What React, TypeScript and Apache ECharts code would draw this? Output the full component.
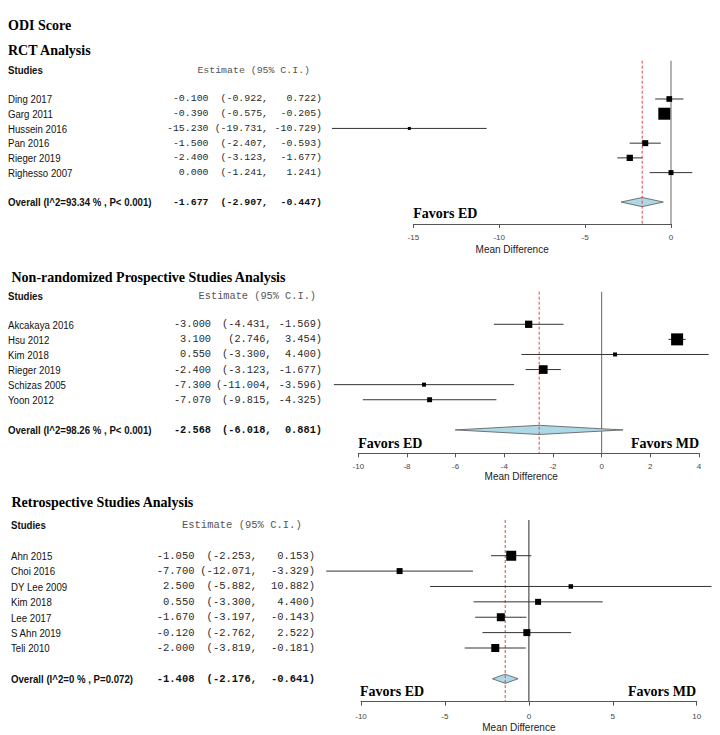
import React, { useEffect, useRef } from "react";
import * as echarts from "echarts";

// ---------- DATA ----------
const rctStudies = ["Ding 2017", "Garg 2011", "Hussein 2016", "Pan 2016", "Rieger 2019", "Righesso 2007"];
const rctEstimate = [-0.1, -0.39, -15.23, -1.5, -2.4, 0.0];
const rctLower = [-0.922, -0.575, -19.731, -2.407, -3.123, -1.241];
const rctUpper = [0.722, -0.205, -10.729, -0.593, -1.677, 1.241];
const rctWeights = [15.0, 31.6, 7.9, 15.8, 16.6, 13.1];
const rctOverall = [-1.677, -2.907, -0.447];
const rctOverallLabel = "Overall (I^2=93.34 % , P< 0.001)";
const rctTicks = [-15, -10, -5, 0];

const nrsStudies = ["Akcakaya 2016", "Hsu 2012", "Kim 2018", "Rieger 2019", "Schizas 2005", "Yoon 2012"];
const nrsEstimate = [-3.0, 3.1, 0.55, -2.4, -7.3, -7.07];
const nrsLower = [-4.431, 2.746, -3.3, -3.123, -11.004, -9.815];
const nrsUpper = [-1.569, 3.454, 4.4, -1.677, -3.596, -4.325];
const nrsWeights = [17.8, 29.3, 9.8, 21.2, 9.8, 12.1];
const nrsOverall = [-2.568, -6.018, 0.881];
const nrsOverallLabel = "Overall (I^2=98.26 % , P< 0.001)";
const nrsTicks = [-10, -8, -6, -4, -2, 0, 2, 4];

const retStudies = ["Ahn 2015", "Choi 2016", "DY Lee 2009", "Kim 2018", "Lee 2017", "S Ahn 2019", "Teli 2010"];
const retEstimate = [-1.05, -7.7, 2.5, 0.55, -1.67, -0.12, -2.0];
const retLower = [-2.253, -12.071, -5.882, -3.3, -3.197, -2.762, -3.819];
const retUpper = [0.153, -3.329, 10.882, 4.4, -0.143, 2.522, -0.181];
const retWeights = [20.2, 12.1, 9.1, 12.1, 16.2, 14.1, 16.2];
const retOverall = [-1.408, -2.176, -0.641];
const retOverallLabel = "Overall (I^2=0 % , P=0.072)";
const retTicks = [-10, -5, 0, 5, 10];

const pageTitle = "ODI Score";
const panelTitles = ["RCT Analysis", "Non-randomized Prospective Studies Analysis", "Retrospective Studies Analysis"];

// ---------- STYLE / LAYOUT ----------
const SANS = "'Liberation Sans', Arial, sans-serif";
const SERIF = "'Liberation Serif', 'Times New Roman', serif";
const MONO = "'Liberation Mono', 'Courier New', monospace";
const LABEL_SIZE = 11.5;
const LABEL_SCALE = 0.84;

type PanelData = {
  studies: string[];
  est: number[];
  lo: number[];
  hi: number[];
  w: number[];
  overall: number[];
  overallLabel: string;
  ticks: number[];
};

type Layout = {
  labelX: number;
  estRight: number;
  loRight: number;
  hiRight: number;
  monoSize: number;
  left: number;
  top: number;
  width: number;
  height: number;
  yMin: number;
  yMax: number;
  maxSquare: number;
  nameGap: number;
  namePad: number;
  labelMargin: number;
};

const panels: PanelData[] = [
  { studies: rctStudies, est: rctEstimate, lo: rctLower, hi: rctUpper, w: rctWeights, overall: rctOverall, overallLabel: rctOverallLabel, ticks: rctTicks },
  { studies: nrsStudies, est: nrsEstimate, lo: nrsLower, hi: nrsUpper, w: nrsWeights, overall: nrsOverall, overallLabel: nrsOverallLabel, ticks: nrsTicks },
  { studies: retStudies, est: retEstimate, lo: retLower, hi: retUpper, w: retWeights, overall: retOverall, overallLabel: retOverallLabel, ticks: retTicks },
];

const layouts: Layout[] = [
  { labelX: 8, estRight: 208.5, loRight: 268, hiRight: 322, monoSize: 9.9, left: 413.3, top: 60.7, width: 257.7, height: 163.3, yMin: -2.6, yMax: 8.49, maxSquare: 12, nameGap: 20, namePad: 60, labelMargin: 9 },
  { labelX: 8, estRight: 211, loRight: 271.5, hiRight: 322, monoSize: 10.3, left: 358.3, top: 291.7, width: 340.7, height: 161.6, yMin: -2.16, yMax: 8.55, maxSquare: 12, nameGap: 18, namePad: 15, labelMargin: 9 },
  { labelX: 11, estRight: 194.5, loRight: 257, hiRight: 315, monoSize: 10.5, left: 361, top: 520, width: 335.7, height: 181.7, yMin: -2.32, yMax: 9.49, maxSquare: 10, nameGap: 21, namePad: 20, labelMargin: 10.5 },
];

const fmt = (v: number) => v.toFixed(3);

function textEl(x: number, y: number, text: string, opts: any) {
  const align = opts.align || "left";
  return {
    type: "text",
    x,
    y,
    scaleX: opts.scaleX || 1,
    silent: true,
    style: {
      text,
      fill: opts.fill || "#111",
      fontSize: opts.fontSize,
      fontFamily: opts.fontFamily,
      fontWeight: opts.fontWeight || "normal",
      align,
      textAlign: align,
      verticalAlign: "middle",
      textVerticalAlign: "middle",
    },
  };
}

function rowTexts(L: Layout, y: number, label: string, e: number, lo: number, hi: number, bold: boolean) {
  const weight = bold ? "bold" : "normal";
  const monoFill = bold ? "#111" : "#2a2a2a";
  return [
    textEl(L.labelX, y, label, { fontSize: LABEL_SIZE, fontFamily: SANS, fontWeight: weight, scaleX: LABEL_SCALE, fill: "#111" }),
    textEl(L.estRight, y, fmt(e), { fontSize: L.monoSize, fontFamily: MONO, fontWeight: weight, align: "right", fill: monoFill }),
    textEl(L.loRight, y, "(" + fmt(lo) + ",", { fontSize: L.monoSize, fontFamily: MONO, fontWeight: weight, align: "right", fill: monoFill }),
    textEl(L.hiRight, y, fmt(hi) + ")", { fontSize: L.monoSize, fontFamily: MONO, fontWeight: weight, align: "right", fill: monoFill }),
  ];
}

function buildOption() {
  const grid: any[] = [];
  const xAxis: any[] = [];
  const yAxis: any[] = [];
  const series: any[] = [];

  panels.forEach((d, i) => {
    const L = layouts[i];
    const maxW = Math.max(...d.w);
    grid.push({ left: L.left, top: L.top, width: L.width, height: L.height, containLabel: false, outerBoundsMode: "none" });
    xAxis.push({
      type: "value",
      gridIndex: i,
      position: "bottom",
      min: d.ticks[0],
      max: d.ticks[d.ticks.length - 1],
      interval: d.ticks[1] - d.ticks[0],
      axisLine: { show: true, onZero: false, lineStyle: { color: "#555", width: 1 } },
      axisTick: { show: true, length: 4, lineStyle: { color: "#555" } },
      axisLabel: { fontSize: 8, color: "#444", fontFamily: SANS, margin: L.labelMargin },
      splitLine: { show: false },
      name: "Mean Difference",
      nameLocation: "middle",
      nameGap: L.nameGap,
      nameTextStyle: { fontSize: 10, color: "#222", fontFamily: SANS, padding: [0, L.namePad, 0, 0] },
    });
    yAxis.push({ type: "value", gridIndex: i, min: L.yMin, max: L.yMax, inverse: true, show: false });

    // overall: reference lines + diamond + row text
    const k = d.studies.length;
    series.push({
      type: "custom",
      xAxisIndex: i,
      yAxisIndex: i,
      clip: false,
      silent: true,
      data: [[d.overall[0], k + 1, d.overall[1], d.overall[2]]],
      encode: { x: [0, 2, 3], y: 1 },
      renderItem: (params: any, api: any) => {
        const e = api.value(0), row = api.value(1), lo = api.value(2), hi = api.value(3);
        const pE = api.coord([e, row]);
        const pL = api.coord([lo, row]);
        const pH = api.coord([hi, row]);
        const z0 = api.coord([0, L.yMin]);
        const z1 = api.coord([0, L.yMax]);
        const r0 = api.coord([e, L.yMin]);
        const r1 = api.coord([e, L.yMax]);
        const h = 4.6;
        return {
          type: "group",
          children: [
            { type: "line", shape: { x1: z0[0], y1: z0[1], x2: z1[0], y2: z1[1] }, style: { stroke: "#666", lineWidth: i === 2 ? 1.4 : 1 } },
            {
              type: "polygon",
              shape: { points: [[pL[0], pE[1]], [pE[0], pE[1] - h], [pH[0], pE[1]], [pE[0], pE[1] + h]] },
              style: { fill: "#add8e6", stroke: "#555", lineWidth: 0.8 },
            },
            { type: "line", shape: { x1: r0[0], y1: r0[1], x2: r1[0], y2: r1[1] }, style: { stroke: "#e04848", lineWidth: 1, lineDash: [3, 2] } },
            ...rowTexts(L, pE[1], d.overallLabel, e, lo, hi, true),
          ],
        };
      },
    });

    // studies: CI line + square + row text
    series.push({
      type: "custom",
      xAxisIndex: i,
      yAxisIndex: i,
      clip: false,
      silent: true,
      data: d.est.map((e, j) => [e, j, d.lo[j], d.hi[j], d.w[j]]),
      encode: { x: [0, 2, 3], y: 1 },
      renderItem: (params: any, api: any) => {
        const j = params.dataIndex;
        const e = api.value(0), row = api.value(1), lo = api.value(2), hi = api.value(3), w = api.value(4);
        const pE = api.coord([e, row]);
        const pL = api.coord([lo, row]);
        const pH = api.coord([hi, row]);
        const s = (L.maxSquare * w) / maxW;
        return {
          type: "group",
          children: [
            { type: "line", shape: { x1: pL[0], y1: pE[1], x2: pH[0], y2: pE[1] }, style: { stroke: "#333", lineWidth: 1 } },
            { type: "rect", shape: { x: pE[0] - s / 2, y: pE[1] - s / 2, width: s, height: s }, style: { fill: "#000" } },
            ...rowTexts(L, pE[1], d.studies[j], e, lo, hi, false),
          ],
        };
      },
    });
  });

  const headerMono = (x: number, y: number, size: number) =>
    textEl(x, y, "Estimate (95% C.I.)", { fontSize: size, fontFamily: MONO, align: "right", fill: "#555" });
  const studiesHdr = (x: number, y: number) =>
    textEl(x, y, "Studies", { fontSize: LABEL_SIZE, fontFamily: SANS, fontWeight: "bold", scaleX: LABEL_SCALE });
  const serif = (x: number, y: number, t: string, align = "left") =>
    textEl(x, y, t, { fontSize: 14, fontFamily: SERIF, fontWeight: "bold", align, fill: "#000" });

  const graphic = [
    serif(8, 25, pageTitle),
    serif(8, 50, panelTitles[0]),
    studiesHdr(8, 70),
    headerMono(310, 70, 9.9),
    serif(413.3, 213, "Favors ED"),

    serif(11.5, 277, panelTitles[1]),
    studiesHdr(8, 296),
    headerMono(316, 296, 10.3),
    serif(358.3, 443, "Favors ED"),
    serif(699, 443, "Favors MD", "right"),

    serif(11.5, 502, panelTitles[2]),
    studiesHdr(11, 525),
    headerMono(301.7, 525, 10.5),
    serif(360, 691.7, "Favors ED"),
    serif(696, 691.7, "Favors MD", "right"),
  ];

  return {
    animation: false,
    backgroundColor: "#fff",
    grid,
    xAxis,
    yAxis,
    series,
    graphic,
  };
}

export default function App() {
  const ref = useRef<HTMLDivElement>(null);
  useEffect(() => {
    if (!ref.current) return;
    const chart = echarts.init(ref.current, undefined, { renderer: "svg" });
    chart.setOption(buildOption() as any);
    return () => chart.dispose();
  }, []);
  return (
    <div
      ref={ref}
      style={{ position: "absolute", left: 0, top: 0, width: 720, height: 735, background: "#fff" }}
    />
  );
}
